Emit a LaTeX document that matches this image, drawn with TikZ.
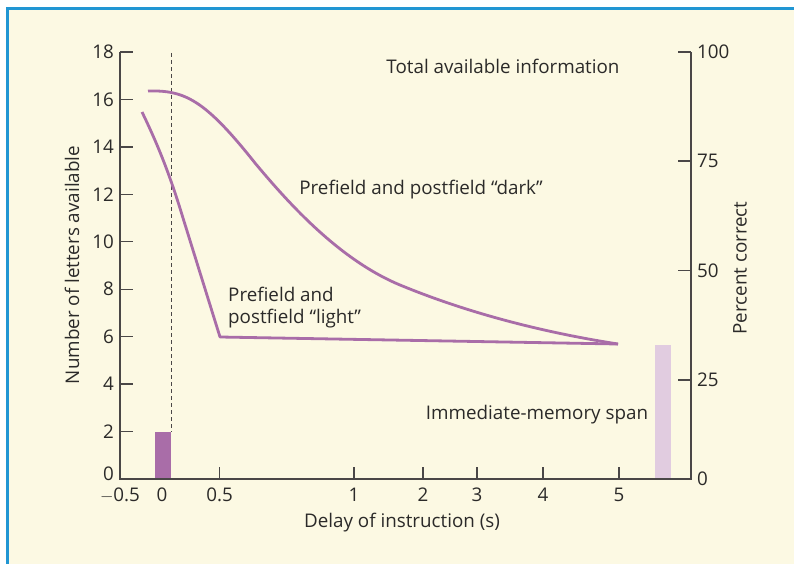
\documentclass[tikz,border=0pt]{standalone}
\usepackage{fontspec}
\setmainfont{Open Sans}
\definecolor{cream}{HTML}{FCF9E3}
\definecolor{framblue}{HTML}{2196D3}
\definecolor{axisgray}{HTML}{4A4747}
\definecolor{plum}{HTML}{A96DA8}
\definecolor{plumlight}{HTML}{E1CCE0}
\definecolor{inktext}{HTML}{2B2A29}
\begin{document}
\begin{tikzpicture}[x=1pt,y=-1pt,
  frameline/.style={draw=framblue,line width=3pt},
  axisline/.style={draw=axisgray,line width=1.5pt},
  tickline/.style={draw=axisgray,line width=1.3pt},
  curve/.style={draw=plum,line width=2.8pt,line join=round},
  guide/.style={draw=axisgray,line width=0.9pt,dash pattern=on 4pt off 3pt},
  lbl/.style={text=inktext,font=\fontsize{18.8}{22}\selectfont,inner sep=0pt},
  ylbl/.style={lbl,anchor=east},
  rlbl/.style={lbl,anchor=west},
  xlbl/.style={lbl,anchor=north},
]
\useasboundingbox (0,0) rectangle (794,564);
\fill[white] (0,0) rectangle (794,564);
\fill[cream] (7,9) rectangle (794,564);
\draw[frameline] (7,564) -- (7,9) -- (794,9);

% bars
\fill[plum] (155,432) rectangle (171,479);
\fill[plumlight] (655,345) rectangle (671,479);

% dashed guide at the start of the display
\draw[guide] (171,53) -- (171,432);

% axes
\draw[axisline] (120,52) -- (120,479) -- (691,479) -- (691,52);

% left ticks and labels (the zero sits a little above the corner)
\node[ylbl] (yl0) at (114,474) {0};
\foreach \v [count=\i from 1] in {2,4,...,18} {
  \pgfmathsetmacro{\yy}{479-\i*47.44}
  \draw[tickline] (120,\yy) -- (133,\yy);
  \node[ylbl] (yl\v) at (114,\yy) {\v};
}
% right ticks and labels
\foreach \v/\yy in {0/479,25/380,50/270.5,75/161,100/52} {
  \ifnum\v>0 \draw[tickline] (691,\yy) -- (678,\yy); \fi
  \node[rlbl] (rl\v) at (697,\yy) {\v};
}
% bottom ticks and labels
\foreach \t/\xx in {{$-$0.5}/120,0/162,0.5/219.5,1/354,2/423,3/477,4/543,5/619} {
  \node[xlbl] at (\xx,488) {\t};
}
\foreach \xx in {219.5,354,423,477,543,619} {
  \draw[tickline] (\xx,479) -- (\xx,467);
}

% curves
\draw[curve] (148,91) .. controls (185,90) and (205,100) .. (255,163)
  .. controls (290,205) and (340,260) .. (400,285)
  .. controls (480,318) and (560,335) .. (618,344);
\draw[curve] (142,112) .. controls (158,145) and (170,175) .. (183,218)
  -- (220,337) -- (618,344);

% curve and axis captions
\node[lbl] (total) at (503,66) {Total available information};
\node[lbl] (dark) at (421,190) {Prefield and postfield “dark”};
\node[lbl,align=left,anchor=west] (light) at (228,308) {Prefield and\\postfield “light”};
\node[lbl] (span) at (537,415) {Immediate-memory span};
\node[lbl] (xtitle) at (402,523) {Delay of instruction (s)};
\node[lbl,rotate=90] (ytitle) at (72,265) {Number of letters available};
\node[lbl,rotate=90] (rtitle) at (740,268) {Percent correct};
\end{tikzpicture}
\end{document}
